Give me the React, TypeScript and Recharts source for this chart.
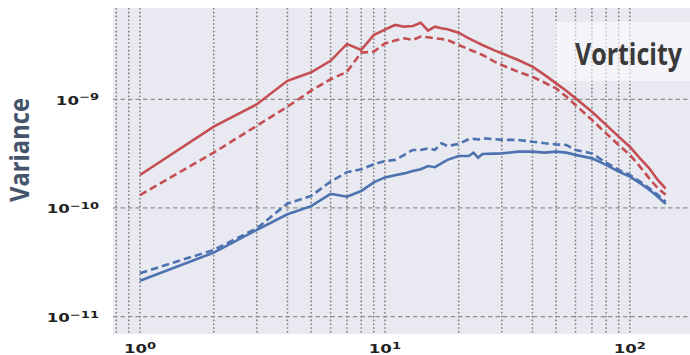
import React from 'react';
import { LineChart, Line, XAxis, YAxis, CartesianGrid } from 'recharts';

const wavenumbers = [1, 2, 3, 4, 5, 6, 7, 8, 9, 10, 11, 12, 13, 14, 15, 16, 17, 18, 20, 22, 23, 24, 25, 28, 30, 35, 40, 45, 50, 55, 60, 70, 80, 90, 100, 110, 120, 130, 140];

const redSolid = [2.01e-10, 5.6e-10, 9.0e-10, 1.48e-9, 1.77e-9, 2.26e-9, 3.23e-9, 2.84e-9, 3.9e-9, 4.37e-9, 4.83e-9, 4.66e-9, 4.73e-9, 5.07e-9, 4.28e-9, 4.66e-9, 4.5e-9, 4.41e-9, 4.1e-9, 3.64e-9, 3.47e-9, 3.31e-9, 3.16e-9, 2.82e-9, 2.65e-9, 2.3e-9, 2.0e-9, 1.67e-9, 1.4e-9, 1.2e-9, 1.02e-9, 7.69e-10, 5.81e-10, 4.53e-10, 3.66e-10, 2.86e-10, 2.32e-10, 1.81e-10, 1.51e-10];

const redDashed = [1.31e-10, 3.23e-10, 5.71e-10, 8.55e-10, 1.2e-9, 1.53e-9, 1.79e-9, 2.69e-9, 2.74e-9, 3.27e-9, 3.47e-9, 3.64e-9, 3.52e-9, 3.77e-9, 3.72e-9, 3.64e-9, 3.59e-9, 3.52e-9, 3.16e-9, 2.88e-9, 2.77e-9, 2.66e-9, 2.56e-9, 2.22e-9, 2.07e-9, 1.79e-9, 1.61e-9, 1.42e-9, 1.26e-9, 1.06e-9, 8.87e-10, 6.46e-10, 4.86e-10, 3.8e-10, 3.08e-10, 2.4e-10, 1.87e-10, 1.52e-10, 1.32e-10];

const blueSolid = [2.14e-11, 3.88e-11, 6.28e-11, 8.75e-11, 1.04e-10, 1.35e-10, 1.27e-10, 1.43e-10, 1.72e-10, 1.91e-10, 2.0e-10, 2.08e-10, 2.19e-10, 2.27e-10, 2.43e-10, 2.37e-10, 2.57e-10, 2.77e-10, 3.01e-10, 3.01e-10, 3.23e-10, 2.9e-10, 3.14e-10, 3.16e-10, 3.18e-10, 3.3e-10, 3.3e-10, 3.23e-10, 3.3e-10, 3.23e-10, 3.08e-10, 2.86e-10, 2.49e-10, 2.16e-10, 1.94e-10, 1.69e-10, 1.47e-10, 1.27e-10, 1.09e-10];

const blueDashed = [2.51e-11, 4.11e-11, 6.5e-11, 1.1e-10, 1.29e-10, 1.75e-10, 2.13e-10, 2.27e-10, 2.52e-10, 2.7e-10, 2.77e-10, 3.08e-10, 3.42e-10, 3.42e-10, 3.54e-10, 3.42e-10, 3.94e-10, 3.72e-10, 3.88e-10, 4.29e-10, 4.32e-10, 4.27e-10, 4.38e-10, 4.29e-10, 4.23e-10, 4.23e-10, 4.07e-10, 3.94e-10, 3.85e-10, 3.8e-10, 3.42e-10, 3.18e-10, 2.61e-10, 2.24e-10, 2.01e-10, 1.75e-10, 1.52e-10, 1.32e-10, 1.14e-10];

const xTicks = [0.8, 0.9, 1, 2, 3, 4, 5, 6, 7, 8, 9, 10, 20, 30, 40, 50, 60, 70, 80, 90, 100];
const yTicks = [1e-11, 1e-10, 1e-9];
const xDomain = [0.776, 176];
const yDomain = [6.92e-12, 6.92e-9];

const yLabel = 'Variance';
const panelTitle = 'Vorticity';

const data = wavenumbers.map((k, i) => ({
  k,
  rs: redSolid[i],
  rd: redDashed[i],
  bs: blueSolid[i],
  bd: blueDashed[i],
}));

const RED = '#C44E52';
const BLUE = '#4C72B0';
const STRETCH = 1.38;

const expText = (v: number) => {
  const e = Math.round(Math.log10(v));
  return e < 0 ? '\u2212' + String(-e) : String(e);
};

const isPow10 = (v: number) => {
  const e = Math.log10(v);
  return Math.abs(e - Math.round(e)) < 1e-6;
};

const XTick = (props: any) => {
  const { x, payload } = props;
  const v = payload.value;
  if (!isPow10(v)) return <g />;
  return (
    <g transform={`translate(${x},353) scale(${STRETCH},1)`}>
      <text x={0} y={0} textAnchor="middle" fontFamily="DejaVu Sans" fontWeight="bold" fontSize={12} fill="#222">
        10<tspan dy={-4.5} fontSize={9.5}>{expText(v)}</tspan>
      </text>
    </g>
  );
};

const YTick = (props: any) => {
  const { y, payload } = props;
  const v = payload.value;
  return (
    <g transform={`translate(99,${y + 5.5}) scale(${STRETCH},1)`}>
      <text x={0} y={0} textAnchor="end" fontFamily="DejaVu Sans" fontWeight="bold" fontSize={12} fill="#222">
        10<tspan dy={-4.5} fontSize={9.5}>{expText(v)}</tspan>
      </text>
    </g>
  );
};

const logFrac = (t: number, d: number[]) =>
  (Math.log10(t) - Math.log10(d[0])) / (Math.log10(d[1]) - Math.log10(d[0]));

const vGen = (args: any) => {
  const o = args?.offset;
  if (!o || typeof o.left !== 'number') return [];
  return xTicks.map((t) => o.left + o.width * logFrac(t, xDomain));
};
const hGen = (args: any) => {
  const o = args?.offset;
  if (!o || typeof o.top !== 'number') return [];
  return yTicks.map((t) => o.top + o.height * (1 - logFrac(t, yDomain)));
};

export default function App() {
  return (
    <div style={{ position: 'absolute', left: 0, top: 0, width: 690, height: 355, background: '#fff' }}>
      <LineChart width={690} height={355} data={data} margin={{ top: 8, right: 0, bottom: 0, left: 0 }}>
        <CartesianGrid horizontal={false} vertical={true} stroke="#7d7d7d" strokeDasharray="1.6 2.2" strokeWidth={1.5} fill="#E9E9F1" verticalCoordinatesGenerator={vGen} />
        <CartesianGrid horizontal={true} vertical={false} stroke="#929292" strokeDasharray="4.5 3" strokeWidth={1.3} horizontalCoordinatesGenerator={hGen} />
        <XAxis
          dataKey="k"
          type="number"
          scale="log"
          domain={xDomain}
          ticks={xTicks}
          allowDataOverflow
          axisLine={false}
          tickLine={false}
          height={21}
          tick={<XTick />}
          interval={0}
        />
        <YAxis
          type="number"
          scale="log"
          domain={yDomain}
          ticks={yTicks}
          allowDataOverflow
          axisLine={false}
          tickLine={false}
          width={113}
          tick={<YTick />}
          interval={0}
        />
        <Line dataKey="rs" stroke={RED} strokeWidth={2.6} dot={false} isAnimationActive={false} type="linear" />
        <Line dataKey="rd" stroke={RED} strokeWidth={2.6} strokeDasharray="7.5 4" dot={false} isAnimationActive={false} type="linear" />
        <Line dataKey="bs" stroke={BLUE} strokeWidth={2.6} dot={false} isAnimationActive={false} type="linear" />
        <Line dataKey="bd" stroke={BLUE} strokeWidth={2.6} strokeDasharray="7.5 4" dot={false} isAnimationActive={false} type="linear" />
      </LineChart>
      <svg width={690} height={355} style={{ position: 'absolute', left: 0, top: 0, pointerEvents: 'none' }}>
        <rect x={555} y={22} width={135} height={59} fill="#ffffff" fillOpacity={0.55} />
        <g transform="translate(575,65) scale(0.87,1)">
          <text x={0} y={0} fontFamily="Open Sans" fontWeight={700} fontSize={30} fill="#3a3a3a" textLength={123} lengthAdjust="spacingAndGlyphs">
            {panelTitle}
          </text>
        </g>
        <g transform={`translate(29,150) scale(1.25,1) rotate(-90)`}>
          <text x={0} y={0} textAnchor="middle" fontFamily="Open Sans" fontWeight="bold" fontSize={22} fill="#44546A" textLength={104} lengthAdjust="spacingAndGlyphs">
            {yLabel}
          </text>
        </g>
      </svg>
    </div>
  );
}
